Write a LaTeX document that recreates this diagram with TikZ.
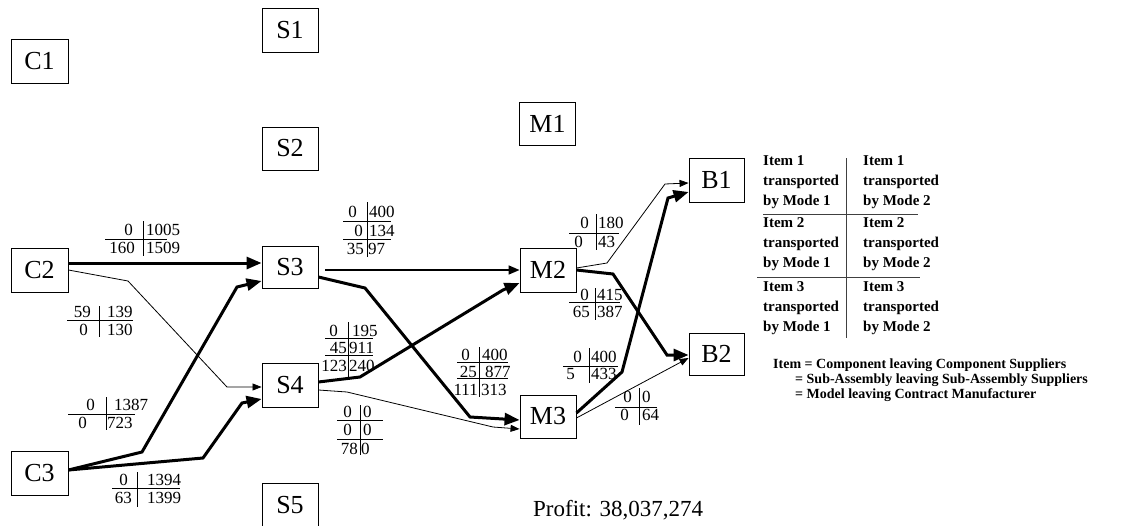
\documentclass[tikz,border=0pt]{standalone}
\usepackage{fontspec}
\setmainfont{Liberation Serif}
\usetikzlibrary{arrows.meta,calc}

% one row of a flow table: left value right-aligned, right value left-aligned
\newcommand\flowrow[6]{%
  \node[num,anchor=east] (#1-l) at (#2,#4) {#5};
  \node[num,anchor=west] (#1-r) at (#3,#4) {#6};}

\tikzset{
  box/.style={draw, line width=0.9pt, minimum width=56pt, minimum height=44pt,
    inner sep=0pt, font=\fontsize{26}{28}\selectfont},
  heavy/.style={line width=3pt, -{Triangle[length=15pt,width=12pt]}},
  medium/.style={line width=1.6pt, -{Triangle[length=11pt,width=9pt]}},
  light/.style={line width=0.8pt, -{Triangle[length=9pt,width=7pt]}},
  num/.style={inner sep=0pt, font=\fontsize{17}{18}\selectfont},
  rule/.style={line width=0.8pt},
  legendtxt/.style={inner sep=0pt, align=left, font=\fontsize{15}{20}\selectfont\bfseries},
  note/.style={inner sep=0pt, font=\fontsize{14}{15}\selectfont\bfseries},
}

\begin{document}
\begin{tikzpicture}[x=1pt,y=-1pt]
\clip (0,0) rectangle (1138,525);
\fill[white] (0,0) rectangle (1138,525);

% ---------- facilities ----------
\node[box, minimum width=57pt] (C1) at (39.5,61) {C1};
\node[box, minimum width=57pt] (C2) at (39.5,270) {C2};
\node[box, minimum width=57pt] (C3) at (39.5,473) {C3};
\node[box] (S1) at (290,30) {S1};
\node[box, minimum height=43pt] (S2) at (290,148.5) {S2};
\node[box, minimum height=42pt] (S3) at (290,267) {S3};
\node[box] (S4) at (290,385) {S4};
\node[box] (S5) at (290,505) {S5};
\node[box, minimum height=43pt] (M1) at (547.5,123.5) {M1};
\node[box] (M2) at (548,270) {M2};
\node[box, minimum height=43pt] (M3) at (548,416.5) {M3};
\node[box, minimum width=55pt] (B1) at (716.5,180) {B1};
\node[box, minimum width=55pt, minimum height=42pt] (B2) at (716.5,354) {B2};

% ---------- flows ----------
\draw[heavy] (C2.east |- 0,263) -- (S3.west |- 0,263);
\draw[light] (C2.east |- 0,270) -- (128,281) -- (227,387) -- (S4.west |- 0,387);
\draw[heavy] (C3.east |- 0,470) -- (142,452) -- (237,287) -- (S3.west |- 0,281);
\draw[heavy] (C3.east |- 0,470) -- (203,458) -- (242,403) -- (S4.west |- 0,399);
\draw[medium, shorten <=7pt] (S3.east |- 0,270) -- (M2.west |- 0,270);
\draw[heavy] (S3.east |- 0,277) -- (365,288) -- (470,417) -- (M3.west |- 0,420);
\draw[heavy] (S4.east |- 0,382) -- (360,377) -- (503,290) -- (M2.west |- 0,283);
\draw[light] (S4.east |- 0,390) -- (347,392) -- (493,427) -- (M3.west |- 0,429);
\draw[light] (M2.east |- 0,268) -- (607,263) -- (665,184) -- (B1.west |- 0,183);
\draw[heavy] (M2.east |- 0,270) -- (613,274) -- (667,355) -- (B2.west |- 0,355);
\draw[heavy] (M3.east |- 0,413) -- (622,372) -- (668,198) -- (B1.west |- 0,192);
\draw[light] (M3.east |- 0,418) -- (B2.west |- 0,358);

% ---------- flow tables ----------
% C2 -> S3
\flowrow{a1}{133}{146}{230}{0}{1005}
\flowrow{a2}{135}{146}{248}{160}{1509}
\draw[rule] (143,221) -- (143,256);
\draw[rule] (105,239) -- (167,239);
% C2 -> S4
\flowrow{b1}{91}{107}{312}{59}{139}
\flowrow{b2}{88}{107}{330}{0}{130}
\draw[rule] (99,306) -- (99,337);
\draw[rule] (67,320) -- (133,320);
% C3 -> S3
\flowrow{c1}{95}{114}{405}{0}{1387}
\flowrow{c2}{87}{107}{423}{0}{723}
\draw[rule] (106,397) -- (106,430);
\draw[rule] (68,414) -- (135,414);
% C3 -> S4
\flowrow{d1}{128}{147}{480}{0}{1394}
\flowrow{d2}{132}{147}{498}{63}{1399}
\draw[rule] (137,472) -- (137,507);
\draw[rule] (112,488) -- (180,488);
% S3 -> M2
\flowrow{e1}{357}{369}{212}{0}{400}
\flowrow{e2}{363}{369}{231}{0}{134}
\flowrow{e3}{364}{368}{249}{35}{97}
\draw[rule] (367,202) -- (367,257);
\draw[rule] (343,221) -- (391,221);
\draw[rule] (343,239) -- (391,239);
% S4 -> M2
\flowrow{f1}{338}{352}{331}{0}{195}
\flowrow{f2}{347}{349}{348}{45}{911}
\flowrow{f3}{347}{349}{366}{123}{240}
\draw[rule] (348,322) -- (348,378);
\draw[rule] (325,338) -- (373,338);
\draw[rule] (325,355) -- (373,355);
% S3 -> M3
\flowrow{g1}{470}{482}{355}{0}{400}
\flowrow{g2}{477}{485}{372}{25}{877}
\flowrow{g3}{478}{481}{390}{111}{313}
\draw[rule] (479,347) -- (479,397);
\draw[rule] (457,362) -- (508,362);
\draw[rule] (457,378) -- (508,378);
% S4 -> M3
\flowrow{h1}{352}{363}{412}{0}{0}
\flowrow{h2}{352}{363}{430}{0}{0}
\flowrow{h3}{358}{361}{449}{78}{0}
\draw[rule] (360,405) -- (360,455);
\draw[rule] (337,420) -- (383,420);
\draw[rule] (337,439) -- (383,439);
% M2 -> B1
\flowrow{i1}{589}{598}{223}{0}{180}
\flowrow{i2}{583}{598}{242}{0}{43}
\draw[rule] (596,214) -- (596,250);
\draw[rule] (569,233) -- (619,233);
% M2 -> B2
\flowrow{j1}{589}{597}{295}{0}{415}
\flowrow{j2}{590}{597}{312}{65}{387}
\draw[rule] (595,288) -- (595,320);
\draw[rule] (569,302) -- (620,302);
% M3 -> B1
\flowrow{k1}{582}{591}{357}{0}{400}
\flowrow{k2}{575}{591}{374}{5}{433}
\draw[rule] (589,348) -- (589,383);
\draw[rule] (563,366) -- (618,366);
% M3 -> B2
\flowrow{m1}{632}{642}{397}{0}{0}
\flowrow{m2}{629}{642}{415}{0}{64}
\draw[rule] (639,388) -- (639,425);
\draw[rule] (615,407) -- (657,407);

% ---------- key ----------
\node[legendtxt, anchor=north west] (t11) at (763,155) {Item 1\\transported\\by Mode 1};
\node[legendtxt, anchor=north west] (t12) at (863,155) {Item 1\\transported\\by Mode 2};
\node[legendtxt, anchor=north west] (t21) at (763,217) {Item 2\\transported\\by Mode 1};
\node[legendtxt, anchor=north west] (t22) at (863,217) {Item 2\\transported\\by Mode 2};
\node[legendtxt, anchor=north west] (t31) at (763,281) {Item 3\\transported\\by Mode 1};
\node[legendtxt, anchor=north west] (t32) at (863,281) {Item 3\\transported\\by Mode 2};
\draw[rule, black!75] (846,158) -- (846,338);
\draw[rule, black!75] (763,214) -- (918,214);
\draw[rule, black!75] (757,277) -- (920,277);

\node[note, anchor=base west] (n1) at (773,368) {Item = Component leaving Component Suppliers};
\node[note, anchor=base west] (n2) at (795,383) {= Sub-Assembly leaving Sub-Assembly Suppliers};
\node[note, anchor=base west] (n3) at (795,398) {= Model leaving Contract Manufacturer};

\node[anchor=base west, inner sep=0pt, font=\fontsize{23}{26}\selectfont] (profit) at (533,516) {Profit: 38,037,274};
\end{tikzpicture}
\end{document}
